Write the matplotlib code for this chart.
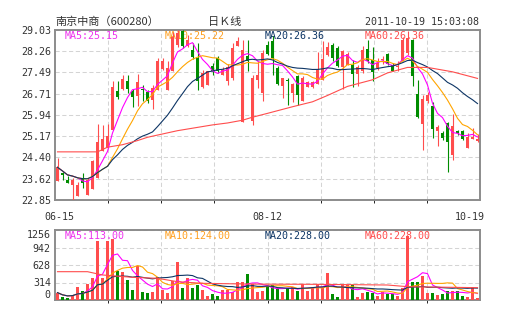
import numpy as np
import pandas as pd
import matplotlib
matplotlib.use("Agg")
import matplotlib.pyplot as plt
import matplotlib.transforms as mtransforms

# ---------------- data ----------------
title_name = "南京中商（600280）"
period_label = "日Ｋ线"
timestamp = "2011-10-19 15:03:08"
date_labels = ["06-15", "08-12", "10-19"]
date_label_idx = [0, 42, 84]

opens = [23.55, 23.82, 23.59, 23.41, 23.01, 23.65, 23.04, 23.26, 23.65, 24.62,
         24.74, 25.41, 26.83, 26.90, 27.17, 26.80, 26.64, 26.87, 26.78, 26.50,
         26.86, 27.63, 26.86, 27.53, 28.49, 28.98, 28.45, 28.30, 28.00, 26.95,
         27.04, 27.71, 28.01, 27.38, 27.19, 27.28, 28.44, 25.69, 28.07, 25.71,
         27.23, 26.74, 28.50, 28.62, 27.65, 26.98, 27.21, 26.74, 27.35, 26.46,
         26.95, 26.95, 27.07, 27.23, 28.13, 28.50, 28.38, 27.67, 27.77, 27.77,
         27.44, 27.53, 28.35, 27.94, 27.65, 27.95, 28.16, 27.75, 27.69, 27.89,
         28.19, 28.68, 26.70, 25.63, 26.44, 26.27, 25.37, 25.29, 25.65, 24.50,
         25.37, 25.35, 24.73, 25.06, 24.98]
highs = [24.38, 23.89, 23.71, 23.65, 23.50, 23.82, 23.65, 24.32, 25.63, 25.56,
         25.63, 27.17, 27.17, 27.41, 27.41, 26.90, 27.43, 27.04, 26.86, 27.04,
         28.01, 28.01, 27.89, 28.97, 29.03, 29.03, 28.86, 28.55, 28.56, 27.59,
         27.53, 27.83, 28.07, 27.67, 27.79, 28.56, 28.76, 28.67, 28.67, 27.41,
         27.89, 28.32, 28.62, 28.80, 27.71, 27.29, 27.29, 27.10, 27.41, 27.35,
         27.17, 27.17, 28.23, 28.62, 28.59, 28.56, 28.44, 28.32, 28.23, 27.94,
         27.77, 28.44, 28.68, 28.40, 28.01, 28.07, 28.19, 27.83, 27.89, 28.76,
         29.01, 28.70, 27.23, 26.68, 26.78, 26.41, 25.59, 25.35, 25.69, 25.98,
         25.41, 25.38, 25.29, 25.47, 25.25]
lows = [23.53, 23.59, 23.46, 22.85, 22.98, 23.29, 23.02, 23.24, 23.65, 24.62,
        24.74, 25.41, 26.52, 26.86, 26.74, 26.22, 26.26, 26.44, 26.38, 26.16,
        26.86, 27.59, 26.84, 27.53, 28.40, 28.38, 28.40, 27.97, 26.85, 26.92,
        27.04, 27.41, 27.47, 27.38, 27.04, 27.23, 28.44, 25.69, 27.53, 25.59,
        26.92, 26.44, 28.13, 27.41, 27.04, 26.56, 26.29, 26.41, 26.32, 26.46,
        26.95, 26.92, 27.07, 27.23, 28.07, 27.89, 27.67, 26.89, 27.75, 26.97,
        26.98, 27.47, 27.83, 27.17, 27.59, 27.79, 27.75, 27.53, 27.55, 27.89,
        28.13, 26.98, 25.83, 24.67, 26.38, 25.10, 24.80, 25.04, 23.87, 24.32,
        25.23, 25.04, 24.73, 25.06, 24.96]
closes = [24.04, 23.77, 23.48, 23.59, 23.41, 23.47, 23.59, 24.28, 24.96, 25.07,
          25.17, 26.95, 26.60, 27.25, 26.90, 26.60, 27.13, 26.85, 26.46, 26.92,
          27.89, 27.92, 27.65, 28.78, 28.92, 28.44, 28.67, 28.04, 27.18, 27.47,
          27.53, 27.53, 27.55, 27.59, 27.67, 28.38, 28.62, 28.30, 27.89, 27.28,
          27.41, 28.19, 28.16, 28.01, 27.07, 27.29, 27.19, 27.07, 26.68, 27.29,
          27.14, 27.13, 27.59, 27.99, 28.40, 28.01, 27.71, 28.28, 28.16, 27.44,
          27.67, 28.32, 27.89, 27.52, 27.84, 27.99, 27.79, 27.55, 27.72, 28.68,
          28.74, 27.35, 25.86, 26.53, 26.68, 25.42, 25.50, 25.10, 24.96, 25.53,
          25.27, 25.08, 25.15, 25.15, 25.06]
volumes = [132, 54, 36, 90, 233, 167, 287, 395, 1064, 395,
           1052, 1100, 520, 496, 359, 179, 616, 144, 126, 144,
           413, 179, 126, 341, 682, 215, 395, 215, 269, 179,
           72, 108, 72, 179, 185, 144, 317, 323, 466, 281,
           150, 161, 233, 269, 209, 150, 209, 239, 167, 281,
           161, 239, 287, 209, 490, 108, 54, 281, 269, 269,
           54, 132, 150, 132, 72, 150, 108, 108, 72, 209,
           1148, 329, 329, 431, 132, 132, 90, 108, 167, 167,
           167, 72, 60, 239, 42]

# MA60 lines (index, value)
ma60_idx = [0, 8, 10, 13, 16, 18, 21, 24, 28, 31, 34, 37, 39, 42, 47, 51, 54, 58, 63, 66, 70, 74, 79, 84]
ma60_val = [24.60, 24.60, 24.77, 24.86, 25.01, 25.13, 25.25, 25.37, 25.49, 25.58, 25.65, 25.75,
            25.86, 26.00, 26.24, 26.42, 26.65, 26.98, 27.22, 27.47, 27.67, 27.67, 27.51, 27.27]
vol_ma60_idx = [0, 6, 9, 15, 20, 24, 29, 39, 52, 66, 70, 84]
vol_ma60_val = [508, 508, 449, 407, 389, 329, 299, 285, 281, 269, 239, 221]

price_ticks = [22.85, 23.62, 24.40, 25.17, 25.94, 26.71, 27.49, 28.26, 29.03]
vol_ticks = [0, 314, 628, 942, 1256]
price_legend = ["MA5:25.15", "MA10:25.22", "MA20:26.36", "MA60:26.36"]
vol_legend = ["MA5:113.00", "MA10:124.00", "MA20:228.00", "MA60:228.00"]

# ---------------- style ----------------
RED = "#ff4d4d"
GREEN = "#008c00"
C_MA5 = "#ff00ff"
C_MA10 = "#ffa500"
C_MA20 = "#0d3565"
C_MA60 = "#ff4d4d"
leg_colors = ["#ee33ee", "#ffa020", "#0d3565", "#ff4d4d"]
SPINE = "#8c8c8c"
GRID = "#d4d4d4"
TXT = "#333333"
MONO = "DejaVu Sans Mono"
FS = 7.2

o = np.array(opens); h = np.array(highs); l = np.array(lows); c = np.array(closes)
v = np.array(volumes, dtype=float)
x = np.arange(len(c))
up = c >= o
cols = np.where(up, RED, GREEN)

cs = pd.Series(c)
ma5 = cs.rolling(5, min_periods=1).mean()
ma10 = cs.rolling(10, min_periods=1).mean()
ma20 = cs.rolling(20, min_periods=1).mean()
vs = pd.Series(v)
vma5 = vs.rolling(5, min_periods=1).mean()
vma10 = vs.rolling(10, min_periods=1).mean()
vma20 = vs.rolling(20, min_periods=1).mean()

fig = plt.figure(figsize=(5.05, 3.3), dpi=100)
fig.patch.set_facecolor("white")
W, H = 505.0, 330.0
ax = fig.add_axes([55 / W, 1 - 200 / H, 425 / W, 170 / H])
axv = fig.add_axes([55 / W, 1 - 300 / H, 425 / W, 70 / H])

n = len(c)
grid_x = [-0.5 + k * n / 8.0 for k in range(1, 8)]

for a in (ax, axv):
    a.set_xlim(-0.5, n - 0.5)
    for s in a.spines.values():
        s.set_color(SPINE)
        s.set_linewidth(1.4)
    a.tick_params(length=0, colors=TXT, labelsize=FS, pad=3)
    a.set_xticks(grid_x, minor=True)
    a.grid(which="minor", axis="x", color=GRID, linewidth=0.75, linestyle=(0, (4, 2.5)))
    a.grid(which="major", axis="y", color=GRID, linewidth=0.75, linestyle=(0, (4, 2.5)))
    a.set_axisbelow(True)

# --- price panel ---
ax.set_ylim(price_ticks[0], price_ticks[-1])
ax.set_yticks(price_ticks)
ax.set_yticklabels([f"{t:.2f}" for t in price_ticks], fontfamily=MONO, fontsize=FS, color=TXT)
ax.vlines(x, l, h, colors=cols, linewidth=0.8, zorder=3)
body_h = np.maximum(np.abs(c - o), 0.025)
ax.bar(x, body_h, bottom=np.minimum(o, c), width=0.72, color=cols, linewidth=0, zorder=4)
ax.plot(x, ma5, color=C_MA5, lw=0.8, zorder=5)
ax.plot(x, ma10, color=C_MA10, lw=0.8, zorder=5)
ax.plot(x, ma20, color=C_MA20, lw=0.8, zorder=5)
ax.plot(ma60_idx, ma60_val, color=C_MA60, lw=0.8, zorder=5)

ax.set_xticks(date_label_idx)
ax.set_xticklabels(date_labels, fontfamily=MONO, fontsize=FS, color=TXT)
ax.tick_params(axis="x", pad=9)
xl = ax.get_xticklabels()
off = mtransforms.ScaledTranslation(-8 / 100, 0, fig.dpi_scale_trans)
xl[-1].set_transform(xl[-1].get_transform() + off)
off0 = mtransforms.ScaledTranslation(2 / 100, 0, fig.dpi_scale_trans)
xl[0].set_transform(xl[0].get_transform() + off0)

leg_x = [10 / 425, 110 / 425, 210 / 425, 310 / 425]
for t, col, px in zip(price_legend, leg_colors, leg_x):
    ax.text(px, (200 - 36) / 170, t, transform=ax.transAxes, color=col,
            fontfamily=MONO, fontsize=FS, va="center", ha="left", zorder=2)

# --- volume panel ---
axv.set_ylim(0, vol_ticks[-1])
axv.set_yticks(vol_ticks)
axv.set_yticklabels([str(t) for t in vol_ticks], fontfamily=MONO, fontsize=FS, color=TXT)
yl = axv.get_yticklabels()
yl[-1].set_va("top")
yl[0].set_va("bottom")
axv.set_xticks([])
axv.bar(x, v, width=0.75, color=cols, linewidth=0, zorder=3)
axv.plot(x, vma5, color=C_MA5, lw=0.8, zorder=5)
axv.plot(x, vma10, color=C_MA10, lw=0.8, zorder=5)
axv.plot(x, vma20, color=C_MA20, lw=0.8, zorder=5)
axv.plot(vol_ma60_idx, vol_ma60_val, color=C_MA60, lw=0.8, zorder=5)
for t, col, px in zip(vol_legend, leg_colors, leg_x):
    axv.text(px, (300 - 236) / 70, t, transform=axv.transAxes, color=col,
             fontfamily=MONO, fontsize=FS, va="center", ha="left", zorder=2)

# --- header texts ---
fig.text(55 / W, 1 - 22 / H, title_name, fontfamily=["Noto Sans CJK SC", "DejaVu Sans"],
         fontsize=8, color=TXT, va="center", ha="left")
fig.text(225 / W, 1 - 22 / H, period_label, fontfamily=["Noto Sans CJK SC", "DejaVu Sans"],
         fontsize=8, color=TXT, va="center", ha="center")
fig.text(479 / W, 1 - 22 / H, timestamp, fontfamily=MONO, fontsize=FS, color=TXT,
         va="center", ha="right")

fig.savefig("out.png", dpi=100, facecolor="white")
